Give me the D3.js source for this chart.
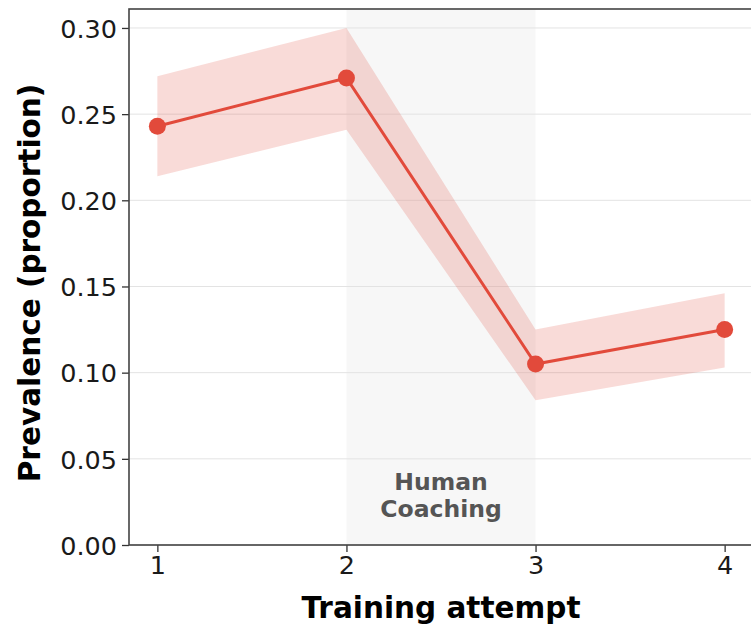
<!DOCTYPE html>
<html>
<head>
<meta charset="utf-8">
<script src="https://cdn.jsdelivr.net/npm/d3@7"></script>
<style>
  body { margin: 0; background: #fff; }
  svg { display: block; font-family: "DejaVu Sans", sans-serif; }
</style>
</head>
<body>
<svg id="chart" width="751" height="625"></svg>
<script>
// data
const attempts = [1, 2, 3, 4];
const prevalence = [0.243, 0.271, 0.105, 0.125];
const ciLow = [0.214, 0.241, 0.084, 0.103];
const ciHigh = [0.272, 0.300, 0.125, 0.146];
const yTicks = [0.00, 0.05, 0.10, 0.15, 0.20, 0.25, 0.30];
const coachingSpan = [2, 3];
const coachingLabel = ['Human', 'Coaching'];

const red = '#e24a3b';

const svg = d3.select('#chart');
const plot = {left: 129, right: 753, top: 9, bottom: 545};

const x = d3.scaleLinear().domain([0.85, 4.15]).range([plot.left, plot.right]);
const y = d3.scaleLinear().domain([0, 0.311]).range([plot.bottom, plot.top]);

const rows = attempts.map((a, i) => ({a, v: prevalence[i], lo: ciLow[i], hi: ciHigh[i]}));

// shaded coaching region
svg.append('rect')
    .attr('x', x(coachingSpan[0]))
    .attr('y', plot.top)
    .attr('width', x(coachingSpan[1]) - x(coachingSpan[0]))
    .attr('height', plot.bottom - plot.top)
    .attr('fill', '#f7f7f7');

// horizontal grid
svg.append('g')
    .selectAll('line')
    .data(yTicks)
    .join('line')
    .attr('x1', plot.left)
    .attr('x2', plot.right)
    .attr('y1', d => y(d))
    .attr('y2', d => y(d))
    .attr('stroke', '#e3e3e3')
    .attr('stroke-width', 1);

// coaching label
svg.append('text')
    .attr('text-anchor', 'middle')
    .attr('font-size', 23.5)
    .attr('font-weight', 'bold')
    .attr('fill', '#555')
    .selectAll('tspan')
    .data(coachingLabel)
    .join('tspan')
    .attr('x', x(2.5))
    .attr('y', (d, i) => 490 + i * 27)
    .text(d => d);

// confidence band
svg.append('path')
    .datum(rows)
    .attr('fill', red)
    .attr('fill-opacity', 0.2)
    .attr('d', d3.area()
        .x(d => x(d.a))
        .y0(d => y(d.lo))
        .y1(d => y(d.hi)));

// line and markers
svg.append('path')
    .datum(rows)
    .attr('fill', 'none')
    .attr('stroke', red)
    .attr('stroke-width', 3)
    .attr('d', d3.line().x(d => x(d.a)).y(d => y(d.v)));

svg.append('g')
    .selectAll('circle')
    .data(rows)
    .join('circle')
    .attr('cx', d => x(d.a))
    .attr('cy', d => y(d.v))
    .attr('r', 8.5)
    .attr('fill', red);

// axes
const yAxis = svg.append('g')
    .attr('transform', `translate(${plot.left},0)`)
    .call(d3.axisLeft(y).tickValues(yTicks).tickFormat(d3.format('.2f')).tickSizeOuter(0).tickSize(7).tickPadding(5));

const xAxis = svg.append('g')
    .attr('transform', `translate(0,${plot.bottom})`)
    .call(d3.axisBottom(x).tickValues(attempts).tickFormat(d3.format('d')).tickSizeOuter(0).tickSize(7).tickPadding(4));

[xAxis, yAxis].forEach(g => {
    g.select('.domain').remove();
    g.selectAll('line').attr('stroke', '#333').attr('stroke-width', 1.3);
    g.selectAll('text')
        .attr('font-family', '"DejaVu Sans", sans-serif')
        .attr('font-size', 25.5)
        .attr('fill', '#1a1a1a');
});
yAxis.selectAll('text').attr('dy', '0.36em');

// spines
svg.append('rect')
    .attr('x', plot.left)
    .attr('y', plot.top)
    .attr('width', plot.right - plot.left)
    .attr('height', plot.bottom - plot.top)
    .attr('fill', 'none')
    .attr('stroke', '#444')
    .attr('stroke-width', 1.6);

// axis labels
svg.append('text')
    .attr('x', 441)
    .attr('y', 618)
    .attr('text-anchor', 'middle')
    .attr('font-size', 29.5)
    .attr('font-weight', 'bold')
    .text('Training attempt');

svg.append('text')
    .attr('transform', `translate(40,283) rotate(-90)`)
    .attr('text-anchor', 'middle')
    .attr('font-size', 29.5)
    .attr('font-weight', 'bold')
    .text('Prevalence (proportion)');
</script>
</body>
</html>
